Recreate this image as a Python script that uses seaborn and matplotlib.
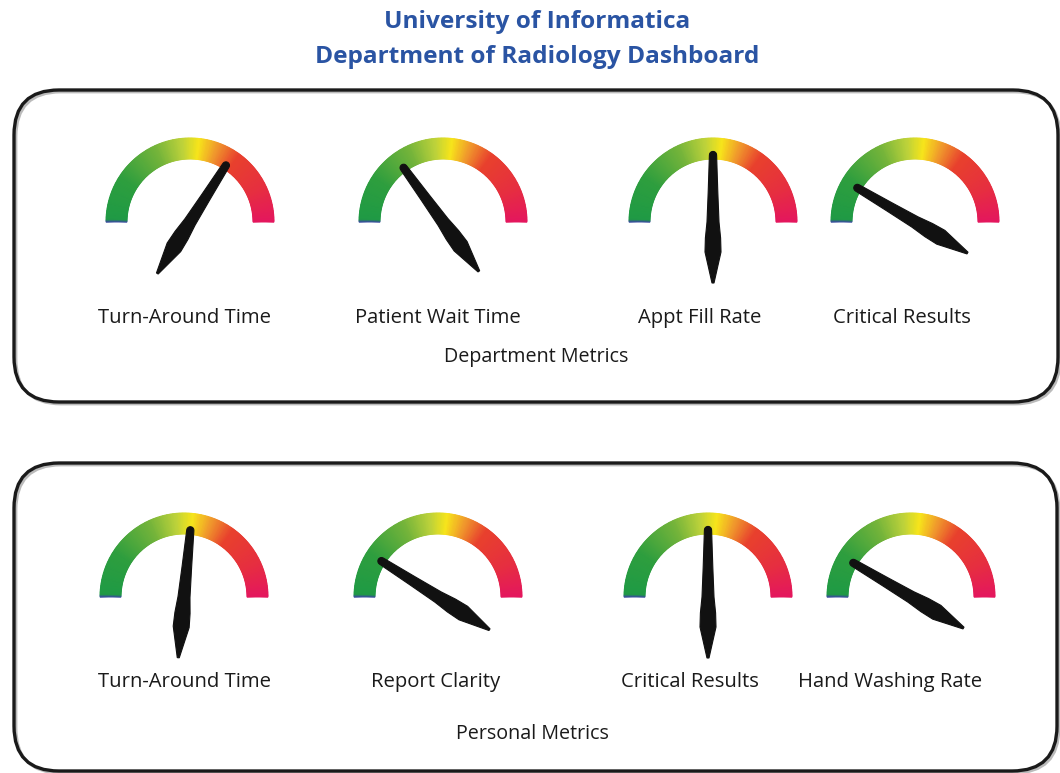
import numpy as np
import matplotlib
matplotlib.use("Agg")
import matplotlib.pyplot as plt
import seaborn as sns
from matplotlib.patches import FancyBboxPatch
from matplotlib.colors import LinearSegmentedColormap

# data
title_lines = ["University of Informatica", "Department of Radiology Dashboard"]
dept_labels = ["Turn-Around Time", "Patient Wait Time", "Appt Fill Rate", "Critical Results"]
dept_values = [68, 30, 50, 17]          # needle position, 0 = far left, 100 = far right
pers_labels = ["Turn-Around Time", "Report Clarity", "Critical Results", "Hand Washing Rate"]
pers_values = [53, 18, 50, 17]
group_titles = ["Department Metrics", "Personal Metrics"]

# layout (pixel space of the 1060x773 canvas)
W, H = 1060, 773
dept_cx = [190, 443, 713, 915]
pers_cx = [184, 438, 708, 911]
dept_lx = [184, 438, 700, 902]
pers_lx = [184, 436, 690, 890]
R_OUT, R_IN = 84, 63

sns.set_theme(style="white")
plt.rcParams["font.family"] = ["Open Sans", "DejaVu Sans"]

gauge_cmap = LinearSegmentedColormap.from_list("gauge", [
    (0.00, "#3a4aa0"), (0.008, "#1f9a45"), (0.18, "#2e9e3e"), (0.36, "#74b43a"),
    (0.47, "#bfd33a"), (0.535, "#f7e51b"), (0.61, "#f09a2c"), (0.70, "#e8412d"),
    (0.86, "#e62f40"), (1.00, "#e4175e")])


def draw_gauge(ax, cx, cy, value):
    th = np.linspace(np.pi, 0, 181)
    rr = np.array([R_IN, R_OUT])
    T, Rg = np.meshgrid(th, rr)
    X = cx + Rg * np.cos(T)
    Y = cy - Rg * np.sin(T)
    C = (np.pi - T) / np.pi
    ax.pcolormesh(X, Y, C, cmap=gauge_cmap, shading="gouraud", vmin=0, vmax=1,
                  rasterized=True, zorder=2)

    # needle: kite-shaped pointer through the hub, rounded tip
    ang = np.radians(180 - 1.8 * value)
    d = np.array([np.cos(ang), -np.sin(ang)])
    n = np.array([np.sin(ang), np.cos(ang)])
    cap = np.linspace(0, np.pi, 9)
    pts = [(67 + 3.6 * np.sin(c), 3.6 * np.cos(c)) for c in cap]
    pts += [(30, -4.8), (0, -6.0), (-16, -7.6), (-30, -8.0), (-61, -1.0),
            (-61, 1.0), (-30, 8.0), (-16, 7.6), (0, 6.0), (30, 4.8)]
    px = [cx + a * d[0] + b * n[0] for a, b in pts]
    py = [cy + a * d[1] + b * n[1] for a, b in pts]
    ax.fill(px, py, color="#111111", lw=0.8, ec="#111111", zorder=3)


fig = plt.figure(figsize=(W / 100, H / 100), dpi=100)
ax = fig.add_axes([0, 0, 1, 1])
ax.set_xlim(0, W)
ax.set_ylim(H, 0)
ax.axis("off")

ax.text(537, 22, title_lines[0], ha="center", va="center", fontsize=17.6,
        fontweight="bold", color="#2a54a3")
ax.text(537, 57, title_lines[1], ha="center", va="center", fontsize=17.6,
        fontweight="bold", color="#2a54a3")

boxes = [(14, 90, 1044, 312), (14, 463, 1043, 308)]
for x0, y0, bw, bh in boxes:
    ax.add_patch(FancyBboxPatch((x0 + 2, y0 + 2), bw, bh,
                                boxstyle="round,pad=0,rounding_size=45",
                                fc="none", ec="#bbbbbb", lw=2.0, zorder=1))
    ax.add_patch(FancyBboxPatch((x0, y0), bw, bh,
                                boxstyle="round,pad=0,rounding_size=45",
                                fc="none", ec="#1a1a1a", lw=2.4, zorder=1))

rows = [(dept_cx, dept_lx, dept_labels, dept_values, 222, 318, group_titles[0], 536, 357),
        (pers_cx, pers_lx, pers_labels, pers_values, 597, 682, group_titles[1], 532, 734)]
for cxs, lxs, labels, values, cy, ly, gtitle, gx, gy in rows:
    for cx, lx, lab, v in zip(cxs, lxs, labels, values):
        draw_gauge(ax, cx, cy, v)
        ax.text(lx, ly, lab, ha="center", va="center", fontsize=14.6, color="#1a1a1a")
    ax.text(gx, gy, gtitle, ha="center", va="center", fontsize=14.2, color="#1a1a1a")

fig.savefig("out.png", dpi=100)
